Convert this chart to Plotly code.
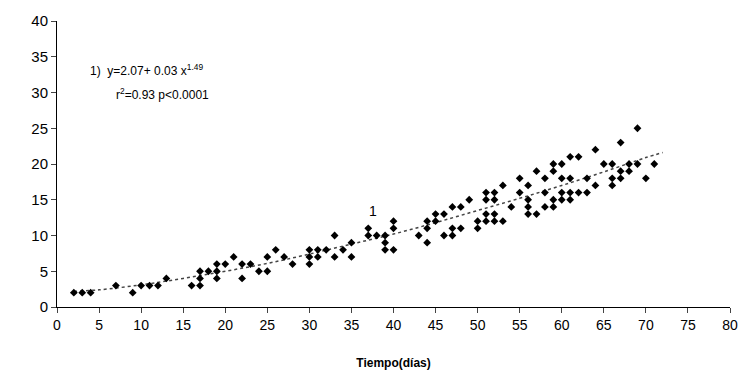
import plotly.graph_objects as go

# Observed points (day, value)
dias = [2,3,4,7,9,10,11,12,13,16,17,17,17,18,19,19,19,20,21,22,22,23,24,25,25,26,27,28,
        30,30,30,31,31,32,33,33,34,35,35,37,37,38,39,39,39,40,40,40,43,44,44,44,45,45,46,46,
        47,47,47,48,48,49,50,50,51,51,51,51,52,52,52,52,53,53,54,55,55,56,56,56,56,57,57,
        58,58,58,59,59,59,59,60,60,60,60,61,61,61,61,62,62,63,63,64,64,65,66,66,66,67,67,67,
        68,68,69,69,70,71]
valores = [2,2,2,3,2,3,3,3,4,3,5,4,3,5,6,5,4,6,7,6,4,6,5,7,5,8,7,6,
           8,7,6,8,7,8,10,7,8,9,7,11,10,10,10,9,8,12,11,8,10,12,11,9,13,12,13,10,
           14,11,10,14,11,15,12,11,16,15,13,12,16,15,13,12,17,12,14,18,16,17,15,14,13,19,13,
           18,16,14,20,19,15,14,20,18,16,15,21,18,16,15,21,16,18,16,22,17,20,20,18,17,23,19,18,
           20,19,25,20,18,20]

# Trend line
trend_x = [2,5,10,15,20,25,30,35,40,45,50,55,60,65,70,72]
trend_y = [2.2,2.4,3.1,4.0,5.0,6.1,7.4,8.8,10.2,11.8,13.5,15.2,17.0,18.9,20.9,21.6]

x_ticks = list(range(0, 81, 5))
y_ticks = list(range(0, 41, 5))

fig = go.Figure()
fig.add_trace(go.Scatter(x=trend_x, y=trend_y, mode="lines",
                         line=dict(color="#444444", width=1.5, dash="dot", shape="spline"),
                         showlegend=False, hoverinfo="skip"))
fig.add_trace(go.Scatter(x=dias, y=valores, mode="markers",
                         marker=dict(symbol="diamond", size=6, color="black"),
                         showlegend=False))

fig.add_annotation(xref="x", yref="y", x=3.7, y=33.2, xanchor="left", yanchor="middle",
                   text="1)  y=2.07+ 0.03 x<sup>1.49</sup>", showarrow=False,
                   font=dict(family="Liberation Sans, Arial", size=12, color="black"))
fig.add_annotation(xref="x", yref="y", x=6.8, y=29.8, xanchor="left", yanchor="middle",
                   text="r<sup>2</sup>=0.93 p&lt;0.0001", showarrow=False,
                   font=dict(family="Liberation Sans, Arial", size=12, color="black"))
fig.add_annotation(xref="x", yref="y", x=37.6, y=13.4, text="1", showarrow=False,
                   font=dict(family="Liberation Sans, Arial", size=14, color="black"))

fig.update_layout(
    width=750, height=379,
    margin=dict(l=57, r=12, t=15, b=72),
    paper_bgcolor="white", plot_bgcolor="white",
    font=dict(family="Liberation Sans, Arial", color="black"),
    xaxis=dict(range=[0, 80], tickvals=x_ticks, ticks="outside", ticklen=5,
               showline=True, linecolor="black", linewidth=1, showgrid=False, zeroline=False,
               tickfont=dict(size=14, color="black"),
               title=dict(text="<b>Tiempo(días)</b>", font=dict(size=12, color="black"), standoff=26)),
    yaxis=dict(range=[0, 40], tickvals=y_ticks, ticks="outside", ticklen=5,
               showline=True, linecolor="black", linewidth=1, showgrid=False, zeroline=False,
               tickfont=dict(size=15, color="black")),
)

fig.write_html("out.html")
